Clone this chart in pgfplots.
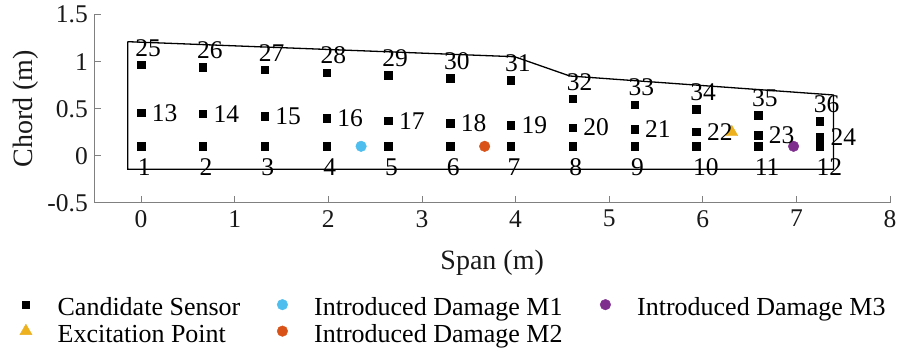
\documentclass[border=0pt]{standalone}
\usepackage{pgfplots}
\usepackage{pgfplotstable}
\pgfplotsset{compat=1.18}
\usepackage{fontspec}
\setmainfont{Liberation Serif}

\definecolor{dmgA}{rgb}{0.301,0.745,0.933}
\definecolor{dmgB}{rgb}{0.850,0.325,0.098}
\definecolor{dmgC}{rgb}{0.494,0.184,0.556}
\definecolor{excite}{rgb}{0.929,0.694,0.125}
\definecolor{axgray}{rgb}{0.50,0.50,0.50}
\definecolor{txt}{rgb}{0.10,0.10,0.10}

\newcommand{\numfont}{\fontsize{25.5}{30}\selectfont}
\newcommand{\labfont}{\fontsize{28}{33}\selectfont}
\newcommand{\legfont}{\fontsize{26}{31}\selectfont}
% legend entry of fixed width and uniform height
\newcommand{\legtext}[2]{\makebox[#1][l]{\rule[-6pt]{0pt}{30pt}#2}}

% sensor grid: trailing-edge row, mid-chord row, leading-edge row
\pgfplotstableread{
x     y    lab
0.00  0.10 1
0.66  0.10 2
1.32  0.10 3
1.98  0.10 4
2.64  0.10 5
3.30  0.10 6
3.95  0.10 7
4.61  0.10 8
5.27  0.10 9
5.93  0.10 10
6.59  0.10 11
7.25  0.10 12
}\rowlow
\pgfplotstableread{
x     y     lab
0.00  0.457 13
0.66  0.444 14
1.32  0.420 15
1.98  0.400 16
2.64  0.372 17
3.30  0.345 18
3.95  0.323 19
4.61  0.300 20
5.27  0.280 21
5.93  0.255 22
6.59  0.220 23
7.25  0.196 24
}\rowmid
\pgfplotstableread{
x     y     lab
0.00  0.965 25
0.66  0.940 26
1.32  0.913 27
1.98  0.885 28
2.64  0.855 29
3.30  0.826 30
3.95  0.805 31
4.61  0.606 32
5.27  0.543 33
5.93  0.494 34
6.59  0.433 35
7.25  0.369 36
}\rowtop

\begin{document}
\begin{tikzpicture}
\begin{axis}[
  at={(0pt,0pt)}, anchor=south west,
  scale only axis,
  width=795.7pt, height=188pt,
  xmin=-0.5, xmax=8, ymin=-0.5, ymax=1.5,
  axis x line*=bottom, axis y line*=left,
  axis line style={axgray, line width=0.8pt},
  tick align=inside,
  major tick length=7pt,
  tick style={axgray, line width=0.8pt},
  xtick={0,1,2,3,4,5,6,7,8},
  xticklabels={0,1,2,3,4,5,6,7,8},
  ytick={-0.5,0,0.5,1,1.5},
  yticklabels={-0.5,0,0.5,1,1.5},
  tick label style={font=\numfont, text=txt},
  xticklabel style={yshift=-4pt},
  yticklabel style={xshift=-3pt},
  xlabel={Span (m)}, ylabel={Chord (m)},
  label style={font=\labfont, text=txt},
  xlabel style={at={(axis description cs:0.5,-0.319)}, anchor=center},
  ylabel style={at={(axis description cs:-0.0867,0.5)}, anchor=center},
  clip=false,
  legend columns=2,
  transpose legend,
  legend image code/.code={%
    \path (-4pt,0pt) (31.5pt,0pt);
    \draw[#1, only marks] plot coordinates {(0pt,0pt)};},
  legend style={draw=none, fill=none, font=\legfont, inner sep=0pt,
    nodes={inner sep=0pt},
    at={(axis description cs:-0.0938,-0.4734)}, anchor=north west,
    row sep=1pt, column sep=0pt},
  legend cell align=left,
]
% wing planform outline
\addplot[black, line width=1.3pt, forget plot] coordinates {
  (-0.143,1.213) (3.99,1.053) (4.58,0.848) (7.397,0.646)
  (7.397,-0.145) (-0.143,-0.145) (-0.143,1.213)};

\addplot[only marks, mark=square*, mark size=3.7pt, black,
  nodes near coords, point meta=explicit symbolic,
  nodes near coords style={anchor=west, inner sep=0pt, xshift=-3.4pt,
    yshift=-20.7pt, font=\numfont, text=black}]
  table[meta=lab] {\rowlow};
\addlegendentry{\legtext{219.5pt}{Candidate Sensor}}

\addplot[only marks, mark=triangle*, mark size=7pt, excite]
  coordinates {(6.31,0.25)};
\addlegendentry{\legtext{219.5pt}{Excitation Point}}

\addplot[only marks, mark=*, mark size=5.3pt, dmgA]
  coordinates {(2.35,0.10)};
\addlegendentry{\legtext{286pt}{Introduced Damage M1}}

\addplot[only marks, mark=*, mark size=5.3pt, dmgB]
  coordinates {(3.67,0.10)};
\addlegendentry{\legtext{286pt}{Introduced Damage M2}}

\addplot[only marks, mark=*, mark size=5.3pt, dmgC]
  coordinates {(6.97,0.10)};
\addlegendentry{\legtext{250pt}{Introduced Damage M3}}

\addplot[only marks, mark=square*, mark size=3.7pt, black, forget plot,
  nodes near coords, point meta=explicit symbolic,
  nodes near coords style={anchor=west, inner sep=0pt, xshift=10.6pt,
    yshift=0pt, font=\numfont, text=black}]
  table[meta=lab] {\rowmid};

\addplot[only marks, mark=square*, mark size=3.7pt, black, forget plot,
  nodes near coords, point meta=explicit symbolic,
  nodes near coords style={anchor=west, inner sep=0pt, xshift=-6pt,
    yshift=17pt, font=\numfont, text=black}]
  table[meta=lab] {\rowtop};
\end{axis}
% page frame around the axis and its legend
\pgfresetboundingbox
\path (-94.3pt,-151.3pt) rectangle (805.7pt,202.7pt);
\end{tikzpicture}
\end{document}
